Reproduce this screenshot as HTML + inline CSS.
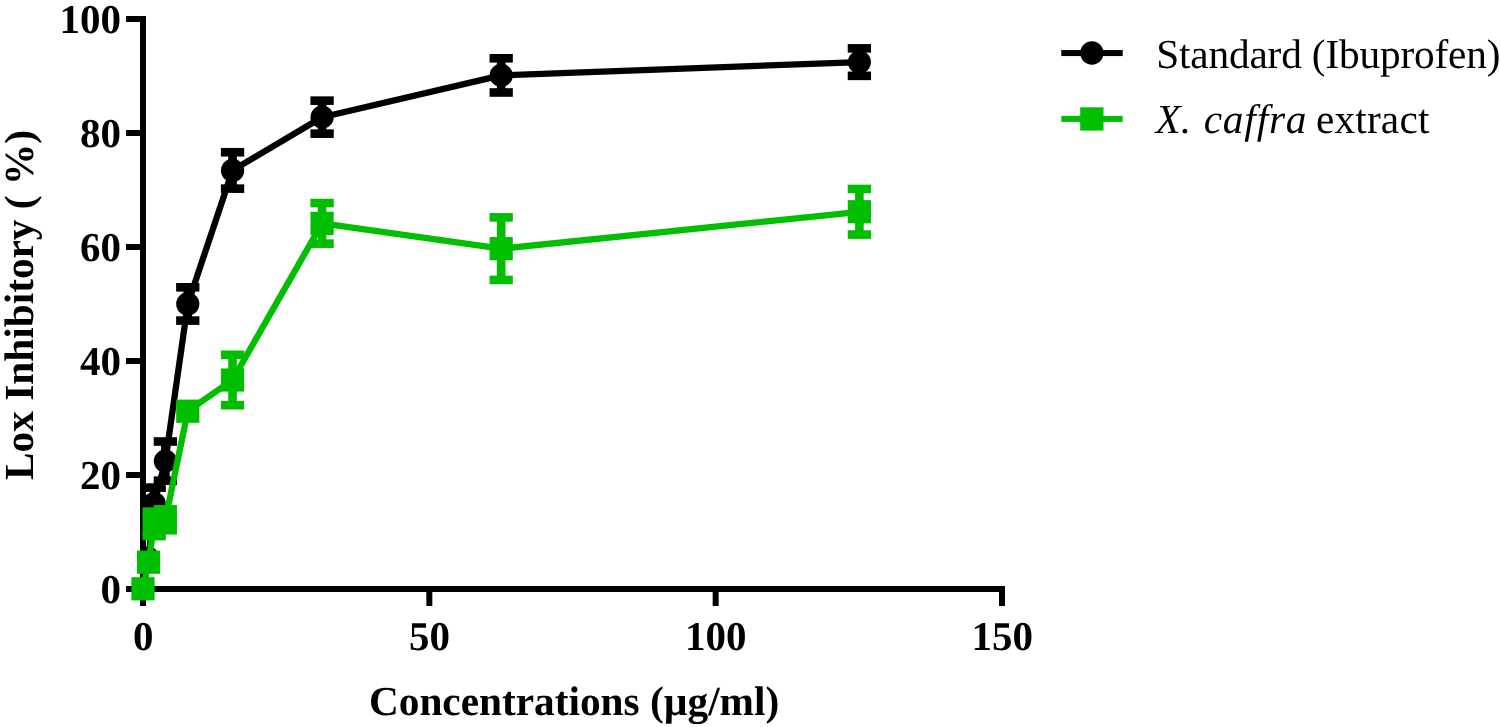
<!DOCTYPE html>
<html><head><meta charset="utf-8">
<style>
html,body{margin:0;padding:0;background:#fff;}
body{width:1500px;height:727px;overflow:hidden;}
svg{display:block;}
#w{will-change:transform;width:1500px;height:727px;}
text{font-family:"Liberation Serif",serif;fill:#000;text-rendering:geometricPrecision;}
.tk{font-weight:bold;font-size:41px;}
.ax{font-weight:bold;font-size:41.3px;}
.lg{font-size:41.3px;}
</style></head><body>
<div id="w">
<svg width="1500" height="727" viewBox="0 0 1500 727">
<rect width="1500" height="727" fill="#fff"/>
<rect x="140" y="16" width="6" height="590" fill="#000"/>
<rect x="140" y="586" width="865" height="6" fill="#000"/>
<rect x="126" y="586.00" width="17" height="6" fill="#000"/>
<text x="121.1" y="602.90" text-anchor="end" class="tk">0</text>
<rect x="126" y="472.00" width="17" height="6" fill="#000"/>
<text x="121.1" y="488.90" text-anchor="end" class="tk">20</text>
<rect x="126" y="358.00" width="17" height="6" fill="#000"/>
<text x="121.1" y="374.90" text-anchor="end" class="tk">40</text>
<rect x="126" y="244.00" width="17" height="6" fill="#000"/>
<text x="121.1" y="260.90" text-anchor="end" class="tk">60</text>
<rect x="126" y="130.00" width="17" height="6" fill="#000"/>
<text x="121.1" y="146.90" text-anchor="end" class="tk">80</text>
<rect x="126" y="16.00" width="17" height="6" fill="#000"/>
<text x="121.1" y="32.90" text-anchor="end" class="tk">100</text>
<rect x="140.00" y="589" width="6" height="17" fill="#000"/>
<text x="143.20" y="650.0" text-anchor="middle" class="tk">0</text>
<rect x="426.33" y="589" width="6" height="17" fill="#000"/>
<text x="429.53" y="650.0" text-anchor="middle" class="tk">50</text>
<rect x="712.67" y="589" width="6" height="17" fill="#000"/>
<text x="715.87" y="650.0" text-anchor="middle" class="tk">100</text>
<rect x="999.00" y="589" width="6" height="17" fill="#000"/>
<text x="1002.20" y="650.0" text-anchor="middle" class="tk">150</text>
<path d="M143.0,589.0 L148.6,558.0 L154.2,503.5 L165.4,461.1 L187.8,303.9 L232.5,170.4 L322.1,117.2 L501.2,75.4 L859.4,62.1" fill="none" stroke="#000" stroke-width="6.3" stroke-linejoin="round"/>
<circle cx="143.00" cy="589.00" r="11.6" fill="#000"/>
<circle cx="148.22" cy="558.00" r="11.2" fill="#000"/>
<rect x="149.88" y="487.60" width="8.6" height="31.80" fill="#000"/>
<rect x="142.53" y="483.30" width="23.3" height="8.6" fill="#000"/>
<rect x="142.53" y="515.10" width="23.3" height="8.6" fill="#000"/>
<circle cx="154.18" cy="503.50" r="11.6" fill="#000"/>
<rect x="161.05" y="441.50" width="8.6" height="39.20" fill="#000"/>
<rect x="153.70" y="437.20" width="23.3" height="8.6" fill="#000"/>
<rect x="153.70" y="476.40" width="23.3" height="8.6" fill="#000"/>
<circle cx="165.35" cy="461.10" r="11.6" fill="#000"/>
<rect x="183.47" y="287.30" width="8.6" height="33.30" fill="#000"/>
<rect x="176.12" y="283.00" width="23.3" height="8.6" fill="#000"/>
<rect x="176.12" y="316.30" width="23.3" height="8.6" fill="#000"/>
<circle cx="187.77" cy="303.95" r="11.6" fill="#000"/>
<rect x="228.25" y="152.25" width="8.6" height="36.40" fill="#000"/>
<rect x="220.90" y="147.95" width="23.3" height="8.6" fill="#000"/>
<rect x="220.90" y="184.35" width="23.3" height="8.6" fill="#000"/>
<circle cx="232.55" cy="170.45" r="11.6" fill="#000"/>
<rect x="317.79" y="100.65" width="8.6" height="33.00" fill="#000"/>
<rect x="310.44" y="96.35" width="23.3" height="8.6" fill="#000"/>
<rect x="310.44" y="129.35" width="23.3" height="8.6" fill="#000"/>
<circle cx="322.09" cy="117.15" r="11.6" fill="#000"/>
<rect x="496.89" y="58.30" width="8.6" height="34.20" fill="#000"/>
<rect x="489.54" y="54.00" width="23.3" height="8.6" fill="#000"/>
<rect x="489.54" y="88.20" width="23.3" height="8.6" fill="#000"/>
<circle cx="501.19" cy="75.40" r="11.6" fill="#000"/>
<rect x="855.08" y="48.35" width="8.6" height="27.50" fill="#000"/>
<rect x="847.73" y="44.05" width="23.3" height="8.6" fill="#000"/>
<rect x="847.73" y="71.55" width="23.3" height="8.6" fill="#000"/>
<circle cx="859.38" cy="62.10" r="11.6" fill="#000"/>
<path d="M143.0,588.8 L148.6,562.2 L154.2,523.9 L165.4,519.8 L187.8,411.2 L232.5,380.0 L322.1,223.3 L501.2,248.7 L859.4,211.8" fill="none" stroke="#00be00" stroke-width="6.3" stroke-linejoin="round"/>
<rect x="131.40" y="577.20" width="23.2" height="23.2" fill="#00be00"/>
<rect x="137.02" y="550.60" width="23.2" height="23.2" fill="#00be00"/>
<rect x="149.88" y="511.60" width="8.6" height="24.50" fill="#00be00"/>
<rect x="142.53" y="507.30" width="23.3" height="8.6" fill="#00be00"/>
<rect x="142.53" y="531.80" width="23.3" height="8.6" fill="#00be00"/>
<rect x="142.58" y="512.25" width="23.2" height="23.2" fill="#00be00"/>
<rect x="161.05" y="509.30" width="8.6" height="20.90" fill="#00be00"/>
<rect x="153.70" y="505.00" width="23.3" height="8.6" fill="#00be00"/>
<rect x="153.70" y="525.90" width="23.3" height="8.6" fill="#00be00"/>
<rect x="153.75" y="508.15" width="23.2" height="23.2" fill="#00be00"/>
<rect x="176.17" y="399.60" width="23.2" height="23.2" fill="#00be00"/>
<rect x="228.25" y="354.80" width="8.6" height="50.40" fill="#00be00"/>
<rect x="220.90" y="350.50" width="23.3" height="8.6" fill="#00be00"/>
<rect x="220.90" y="400.90" width="23.3" height="8.6" fill="#00be00"/>
<rect x="220.95" y="368.40" width="23.2" height="23.2" fill="#00be00"/>
<rect x="317.79" y="203.05" width="8.6" height="40.60" fill="#00be00"/>
<rect x="310.44" y="198.75" width="23.3" height="8.6" fill="#00be00"/>
<rect x="310.44" y="239.35" width="23.3" height="8.6" fill="#00be00"/>
<rect x="310.49" y="211.75" width="23.2" height="23.2" fill="#00be00"/>
<rect x="496.89" y="217.35" width="8.6" height="62.60" fill="#00be00"/>
<rect x="489.54" y="213.05" width="23.3" height="8.6" fill="#00be00"/>
<rect x="489.54" y="275.65" width="23.3" height="8.6" fill="#00be00"/>
<rect x="489.59" y="237.05" width="23.2" height="23.2" fill="#00be00"/>
<rect x="855.08" y="188.95" width="8.6" height="45.60" fill="#00be00"/>
<rect x="847.73" y="184.65" width="23.3" height="8.6" fill="#00be00"/>
<rect x="847.73" y="230.25" width="23.3" height="8.6" fill="#00be00"/>
<rect x="847.77" y="200.15" width="23.2" height="23.2" fill="#00be00"/>
<text id="xl" x="574.1" y="714.9" text-anchor="middle" class="ax">Concentrations (µg/ml)</text>
<text id="yl" transform="translate(33.2,305) rotate(-90)" text-anchor="middle" class="ax" xml:space="preserve">Lox Inhibitory ( %)</text>
<rect x="1061.3" y="50.05" width="61.4" height="6" fill="#000"/>
<circle cx="1091.9" cy="53.0" r="11.65" fill="#000"/>
<text id="l1" x="1156.2" y="68.0" class="lg" textLength="344.3" lengthAdjust="spacing">Standard (Ibuprofen)</text>
<rect x="1061.3" y="115.9" width="61.4" height="6" fill="#00be00"/>
<rect x="1080.2" y="107.3" width="23.3" height="23.3" fill="#00be00"/>
<text id="l2a" x="1155.5" y="132.7" class="lg" font-style="italic">X.</text>
<text id="l2b" x="1203.7" y="132.7" class="lg" font-style="italic" textLength="102.8" lengthAdjust="spacing">caffra</text>
<text id="l2c" x="1315.9" y="132.7" class="lg" textLength="113.5" lengthAdjust="spacing">extract</text>
</svg>
</div>
</body></html>
